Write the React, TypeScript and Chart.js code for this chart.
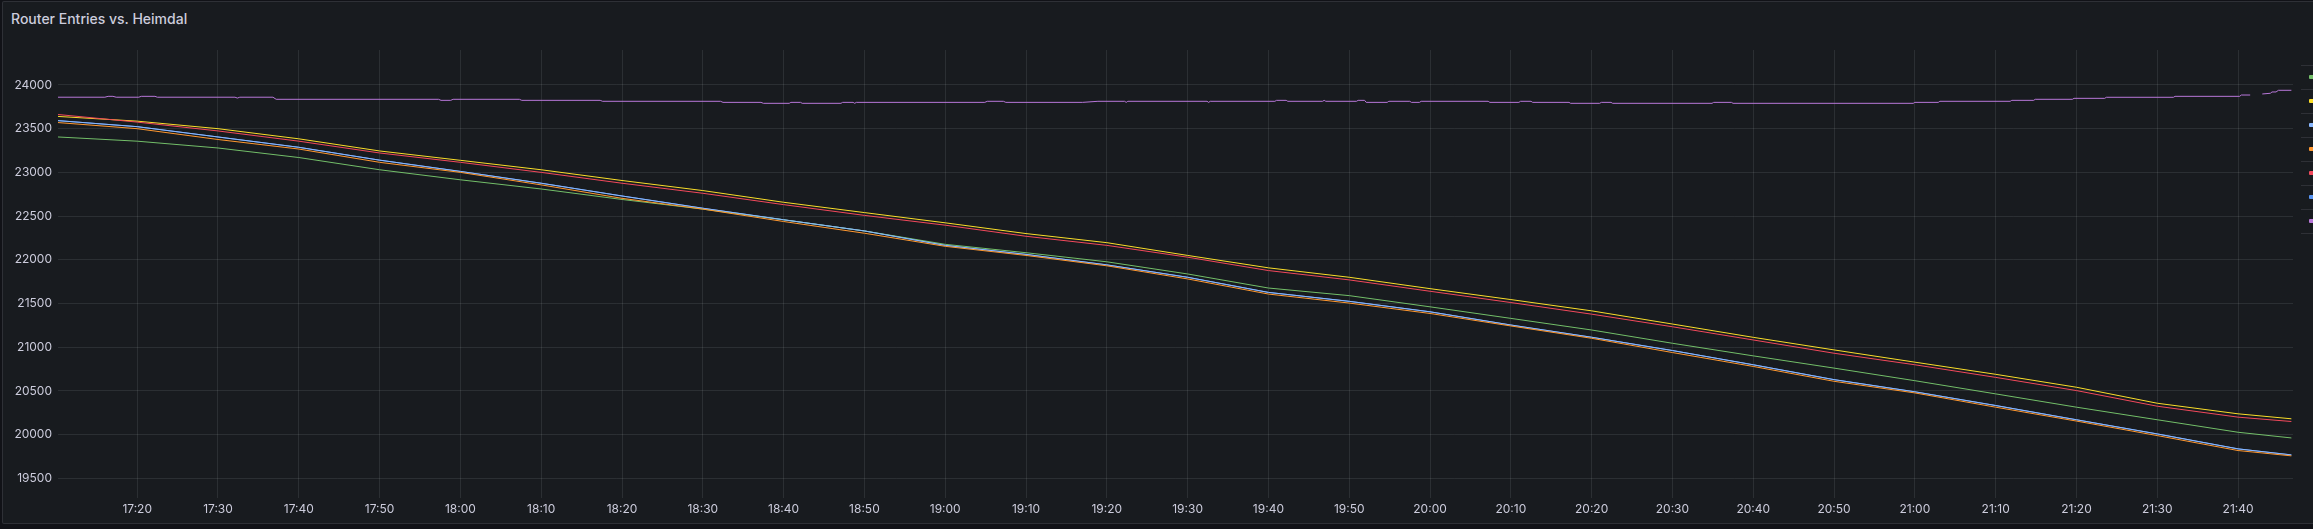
import React, { useEffect, useRef } from "react";
import { Chart, registerables } from "chart.js";

Chart.register(...registerables);

// minutes after 17:00
const T0 = 17 * 60;
const seriesTimes = [10.2, 20, 30, 40, 50, 60, 70, 80, 90, 100, 110, 120, 130, 140, 150, 160, 170, 180, 190, 200, 210, 220, 230, 240, 250, 260, 270, 280, 286.6];

const greenValues = [23405, 23357, 23279, 23170, 23030, 22915, 22810, 22690, 22580, 22458, 22330, 22177, 22081, 21977, 21838, 21677, 21590, 21462, 21330, 21197, 21045, 20901, 20761, 20617, 20466, 20314, 20170, 20027, 19962];
const yellowValues = [23640, 23586, 23500, 23384, 23245, 23138, 23030, 22907, 22792, 22658, 22540, 22423, 22300, 22196, 22050, 21908, 21800, 21670, 21545, 21416, 21265, 21113, 20969, 20829, 20690, 20542, 20359, 20238, 20181];
const lightBlueValues = [23592, 23523, 23405, 23287, 23140, 23011, 22876, 22730, 22590, 22458, 22330, 22165, 22062, 21942, 21800, 21627, 21525, 21405, 21254, 21114, 20962, 20799, 20629, 20490, 20333, 20170, 20008, 19837, 19768];
const orangeValues = [23570, 23500, 23376, 23267, 23115, 23000, 22857, 22703, 22580, 22438, 22304, 22154, 22050, 21931, 21781, 21608, 21505, 21386, 21243, 21102, 20939, 20780, 20610, 20477, 20314, 20155, 19989, 19818, 19757];
const redValues = [23662, 23575, 23474, 23357, 23222, 23115, 23000, 22876, 22761, 22631, 22508, 22396, 22269, 22165, 22030, 21877, 21770, 21640, 21511, 21378, 21234, 21083, 20931, 20799, 20655, 20504, 20325, 20200, 20150];
const blueValues = [23592, 23523, 23405, 23287, 23140, 23011, 22876, 22730, 22590, 22458, 22330, 22165, 22062, 21942, 21800, 21627, 21525, 21405, 21254, 21114, 20962, 20799, 20629, 20490, 20333, 20170, 20008, 19837, 19768];

const purpleTimes = [10.2, 16.0, 16.4, 17.0, 17.4, 20.2, 20.5, 22.2, 22.5, 32.1, 32.4, 32.7, 36.8, 37.2, 57.3, 57.6, 58.8, 59.1, 67.3, 67.6, 77.3, 77.6, 92.2, 92.5, 97.2, 97.5, 100.7, 100.9, 102.1, 102.3, 107.1, 107.3, 108.6, 108.8, 109.0, 124.9, 125.2, 127.2, 127.5, 137.0, 138.9, 142.2, 142.4, 142.6, 152.4, 152.6, 152.8, 160.8, 161.0, 162.2, 162.4, 166.7, 166.9, 167.1, 170.9, 171.1, 171.9, 172.1, 174.7, 174.9, 177.5, 177.7, 178.7, 178.9, 187.2, 187.4, 191.0, 191.2, 192.5, 192.7, 197.2, 197.4, 201.0, 201.2, 202.4, 202.6, 214.9, 215.1, 217.3, 217.5, 239.8, 240.0, 242.9, 243.1, 251.8, 252.0, 254.7, 254.9, 259.5, 259.7, 263.5, 263.7, 272.0, 272.2, 280.2, 280.4, 281.5, 282.2, 283.0, 284.0, 284.2, 284.7, 285.0, 286.6];
const purpleValues = [23860, 23860, 23870, 23870, 23860, 23860, 23870, 23870, 23860, 23860, 23850, 23860, 23860, 23836, 23836, 23824, 23824, 23836, 23836, 23824, 23824, 23813, 23813, 23801, 23801, 23790, 23790, 23801, 23801, 23790, 23790, 23801, 23801, 23790, 23801, 23801, 23813, 23813, 23801, 23801, 23813, 23813, 23801, 23813, 23813, 23801, 23813, 23813, 23824, 23824, 23813, 23813, 23824, 23813, 23813, 23824, 23824, 23801, 23801, 23813, 23813, 23801, 23801, 23813, 23813, 23801, 23801, 23813, 23813, 23801, 23801, 23790, 23790, 23801, 23801, 23790, 23790, 23801, 23801, 23790, 23790, 23801, 23801, 23813, 23813, 23824, 23824, 23836, 23836, 23847, 23847, 23859, 23859, 23870, 23870, 23885, 23885, null, 23897, 23905, 23920, 23920, 23939, 23939];

const legendColors = ["#73BF69", "#FADE2A", "#8AB8FF", "#FF9830", "#F2495C", "#5794F2", "#B877D9"];

const X_MIN = 1030.2;
const X_MAX = 1306.8;
const Y_MIN = 19275;
const Y_MAX = 24400;

function pts(times: number[], vals: (number | null)[]) {
  return times.map((t, i) => ({ x: T0 + t, y: vals[i] }));
}

function fmt(v: number) {
  const h = Math.floor(v / 60);
  const m = Math.round(v % 60);
  return `${h}:${m < 10 ? "0" : ""}${m}`;
}

export default function App() {
  const ref = useRef<HTMLCanvasElement>(null);

  useEffect(() => {
    if (!ref.current) return;
    const mk = (label: string, color: string, data: any, order: number) => ({
      label,
      data,
      borderColor: color,
      backgroundColor: color,
      borderWidth: 1,
      pointRadius: 0,
      pointHoverRadius: 0,
      tension: 0,
      spanGaps: false,
      fill: false,
      order,
    });
    const chart = new Chart(ref.current, {
      type: "line",
      data: {
        datasets: [
          mk("A", legendColors[0], pts(seriesTimes, greenValues), 6),
          mk("B", legendColors[1], pts(seriesTimes, yellowValues), 5),
          mk("C", legendColors[2], pts(seriesTimes, lightBlueValues), 4),
          mk("D", legendColors[3], pts(seriesTimes, orangeValues), 3),
          mk("E", legendColors[4], pts(seriesTimes, redValues), 2),
          mk("F", legendColors[5], pts(seriesTimes, blueValues), 7),
          mk("G", legendColors[6], pts(purpleTimes, purpleValues), 0),
        ],
      },
      options: {
        animation: false,
        responsive: false,
        maintainAspectRatio: false,
        parsing: true,
        layout: { padding: { left: 0, right: 20, top: 50, bottom: 0 } },
        plugins: { legend: { display: false }, tooltip: { enabled: false }, title: { display: false } },
        scales: {
          x: {
            type: "linear",
            min: X_MIN,
            max: X_MAX,
            afterBuildTicks: (scale: any) => {
              const out: any[] = [];
              for (let v = Math.ceil(X_MIN / 10) * 10; v <= X_MAX; v += 10) out.push({ value: v });
              scale.ticks = out;
            },
            afterFit: (scale: any) => {
              scale.height = 31;
            },
            ticks: {
              autoSkip: false,
              maxRotation: 0,
              minRotation: 0,
              padding: 4,
              color: "rgb(204,204,220)",
              font: { family: "Inter", size: 12 },
              callback: (v: any) => fmt(Number(v)),
            },
            grid: { color: "rgba(240,250,255,0.09)", drawTicks: false, lineWidth: 1 },
            border: { display: false },
          },
          y: {
            type: "linear",
            min: Y_MIN,
            max: Y_MAX,
            afterBuildTicks: (scale: any) => {
              const out: any[] = [];
              for (let v = Math.ceil(Y_MIN / 500) * 500; v <= Y_MAX; v += 500) out.push({ value: v });
              scale.ticks = out;
            },
            afterFit: (scale: any) => {
              scale.width = 58;
            },
            ticks: {
              padding: 6,
              color: "rgb(204,204,220)",
              font: { family: "Inter", size: 12 },
              callback: (v: any) => String(v),
            },
            grid: { color: "rgba(240,250,255,0.09)", drawTicks: false, lineWidth: 1 },
            border: { display: false },
          },
        },
      },
    });
    return () => chart.destroy();
  }, []);

  const legendRowsTop = [65, 89, 113, 137, 161, 185, 209, 233];

  return (
    <div style={{ position: "fixed", left: 0, top: 0, width: 2313, height: 529, background: "#111217", overflow: "hidden" }}>
      <div
        style={{
          position: "absolute",
          left: 2,
          top: 1,
          width: 2330,
          height: 521,
          background: "#181b1f",
          border: "1px solid rgba(204,204,220,0.12)",
          borderRadius: 2,
        }}
      />
      <div
        style={{
          position: "absolute",
          left: 11,
          top: 9,
          lineHeight: "20px",
          fontFamily: "Inter, sans-serif",
          fontSize: 14,
          fontWeight: 500,
          color: "rgb(204,204,220)",
          whiteSpace: "nowrap",
        }}
      >
        Router Entries vs. Heimdal
      </div>
      <canvas ref={ref} width={2313} height={529} style={{ position: "absolute", left: 0, top: 0, width: 2313, height: 529 }} />
      {legendRowsTop.map((t, i) => (
        <div key={"sep" + i} style={{ position: "absolute", left: 2301, top: t, width: 20, height: 1, background: "rgba(204,204,220,0.12)" }} />
      ))}
      {legendColors.map((c, i) => (
        <div key={"mk" + i} style={{ position: "absolute", left: 2309, top: 75 + i * 24, width: 8, height: 4, borderRadius: 1, background: c }} />
      ))}
    </div>
  );
}
